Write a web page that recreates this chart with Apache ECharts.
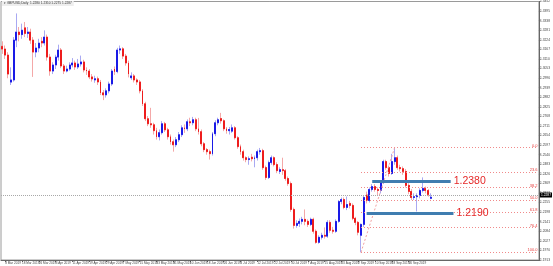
<!DOCTYPE html>
<html><head><meta charset="utf-8">
<script src="https://cdn.jsdelivr.net/npm/echarts@6/dist/echarts.min.js"></script>
<style>html,body{margin:0;padding:0;background:#fff}#c{width:553px;height:266px}</style>
</head><body><div id="c"></div>
<script>
const symbolName = 'GBPUSD,Daily';
const startDate = '2019-03-07';
const futureBars = 38;
const openP = [1.3185,1.3169,1.3133,1.2972,1.2985,1.3222,1.3270,1.3255,1.3295,1.3262,
1.3270,1.3222,1.3151,1.3175,1.3215,1.3205,1.3240,1.3121,1.3038,1.3074,
1.3121,1.3163,1.3068,1.3038,1.3050,1.3074,1.3086,1.3062,1.3080,1.3092,
1.3044,1.3038,1.3003,1.2985,1.2992,1.2973,1.2908,1.2896,1.2920,1.2961,
1.3050,1.3035,1.3163,1.3170,1.3127,1.3086,1.2998,1.3009,1.2985,1.2973,
1.2920,1.2843,1.2754,1.2724,1.2718,1.2683,1.2647,1.2671,1.2724,1.2688,
1.2647,1.2617,1.2599,1.2629,1.2659,1.2700,1.2694,1.2736,1.2730,1.2748,
1.2694,1.2677,1.2605,1.2570,1.2558,1.2546,1.2665,1.2730,1.2755,1.2742,
1.2694,1.2683,1.2680,1.2700,1.2641,1.2588,1.2558,1.2522,1.2511,1.2525,
1.2516,1.2522,1.2558,1.2564,1.2463,1.2404,1.2493,1.2522,1.2481,1.2440,
1.2451,1.2445,1.2398,1.2368,1.2214,1.2119,1.2131,1.2143,1.2155,1.2143,
1.2125,1.2155,1.2084,1.2018,1.2048,1.2060,1.2055,1.2137,1.2090,1.2084,
1.2143,1.2261,1.2273,1.2226,1.2250,1.2238,1.2161,1.2137,1.2060,1.2125,
1.2300,1.2267,1.2333,1.2350,1.2333,1.2327,1.2374,1.2499,1.2463,1.2428,
1.2499,1.2522,1.2463,1.2457,1.2440,1.2357,1.2321,1.2285,1.2290,1.2297,
1.2327,1.2339,1.2327,1.2280];
const closeP = [1.3169,1.3133,1.3020,1.2985,1.3222,1.3270,1.3255,1.3281,1.3262,1.3270,
1.3222,1.3151,1.3175,1.3204,1.3205,1.3240,1.3121,1.3038,1.3074,1.3121,
1.3163,1.3068,1.3038,1.3050,1.3074,1.3086,1.3062,1.3080,1.3092,1.3044,
1.3038,1.3003,1.2991,1.2992,1.2973,1.2908,1.2896,1.2920,1.2961,1.3038,
1.3035,1.3163,1.3170,1.3127,1.3086,1.3020,1.3009,1.2985,1.2973,1.2920,
1.2843,1.2754,1.2724,1.2718,1.2683,1.2647,1.2671,1.2724,1.2688,1.2647,
1.2617,1.2599,1.2629,1.2659,1.2700,1.2694,1.2736,1.2730,1.2748,1.2694,
1.2677,1.2605,1.2570,1.2558,1.2546,1.2665,1.2730,1.2748,1.2742,1.2694,
1.2683,1.2690,1.2700,1.2641,1.2588,1.2558,1.2522,1.2511,1.2516,1.2516,
1.2522,1.2558,1.2564,1.2463,1.2404,1.2493,1.2522,1.2481,1.2445,1.2451,
1.2445,1.2398,1.2368,1.2214,1.2119,1.2131,1.2143,1.2155,1.2143,1.2125,
1.2155,1.2084,1.2018,1.2048,1.2060,1.2055,1.2137,1.2090,1.2084,1.2143,
1.2261,1.2273,1.2226,1.2243,1.2238,1.2161,1.2137,1.2078,1.2125,1.2285,
1.2267,1.2333,1.2350,1.2333,1.2327,1.2374,1.2499,1.2463,1.2428,1.2499,
1.2522,1.2463,1.2457,1.2440,1.2357,1.2321,1.2285,1.2290,1.2297,1.2327,
1.2339,1.2327,1.2303,1.2287];
const lowP = [1.3140,1.3110,1.2995,1.2955,1.2975,1.3180,1.3215,1.3230,1.3240,1.3235,
1.3200,1.3003,1.3120,1.3150,1.3180,1.3190,1.3100,1.3010,1.3020,1.3050,
1.3100,1.3055,1.3020,1.3030,1.3040,1.3060,1.3045,1.3050,1.3065,1.3030,
1.3015,1.2990,1.2975,1.2968,1.2955,1.2895,1.2865,1.2880,1.2905,1.2950,
1.3015,1.3025,1.3140,1.3110,1.3070,1.3000,1.2985,1.2970,1.2955,1.2905,
1.2830,1.2740,1.2710,1.2700,1.2660,1.2630,1.2625,1.2660,1.2675,1.2630,
1.2600,1.2558,1.2585,1.2615,1.2645,1.2670,1.2680,1.2710,1.2715,1.2680,
1.2660,1.2590,1.2555,1.2540,1.2511,1.2535,1.2650,1.2715,1.2725,1.2680,
1.2665,1.2660,1.2670,1.2630,1.2575,1.2540,1.2505,1.2495,1.2480,1.2500,
1.2465,1.2505,1.2540,1.2450,1.2390,1.2395,1.2480,1.2470,1.2430,1.2425,
1.2420,1.2385,1.2355,1.2200,1.2100,1.2105,1.2110,1.2125,1.2120,1.2110,
1.2115,1.2070,1.2010,1.2010,1.2035,1.2040,1.2045,1.2075,1.2070,1.2075,
1.2135,1.2245,1.2215,1.2210,1.2220,1.2150,1.2120,1.2060,1.1959,1.2110,
1.2250,1.2255,1.2320,1.2320,1.2300,1.2310,1.2365,1.2450,1.2410,1.2420,
1.2480,1.2450,1.2440,1.2420,1.2345,1.2305,1.2270,1.2270,1.2202,1.2280,
1.2315,1.2310,1.2290,1.2275];
const highP = [1.3215,1.3190,1.3150,1.3060,1.3240,1.3381,1.3300,1.3320,1.3330,1.3300,
1.3290,1.3240,1.3205,1.3230,1.3240,1.3280,1.3255,1.3140,1.3090,1.3135,
1.3195,1.3175,1.3080,1.3070,1.3090,1.3115,1.3100,1.3110,1.3130,1.3105,
1.3060,1.3050,1.3020,1.3010,1.3005,1.2985,1.2925,1.2935,1.2975,1.3050,
1.3065,1.3176,1.3190,1.3180,1.3140,1.3100,1.3030,1.3020,1.2995,1.2985,
1.2930,1.2855,1.2770,1.2819,1.2730,1.2700,1.2690,1.2740,1.2735,1.2700,
1.2660,1.2630,1.2645,1.2675,1.2715,1.2720,1.2750,1.2760,1.2765,1.2760,
1.2759,1.2690,1.2615,1.2580,1.2570,1.2675,1.2745,1.2760,1.2789,1.2750,
1.2705,1.2705,1.2720,1.2710,1.2650,1.2600,1.2570,1.2530,1.2530,1.2545,
1.2535,1.2570,1.2580,1.2575,1.2475,1.2505,1.2535,1.2530,1.2495,1.2465,
1.2522,1.2455,1.2410,1.2380,1.2225,1.2150,1.2160,1.2170,1.2214,1.2155,
1.2165,1.2165,1.2095,1.2060,1.2075,1.2107,1.2150,1.2150,1.2110,1.2155,
1.2270,1.2285,1.2285,1.2291,1.2265,1.2250,1.2170,1.2145,1.2130,1.2295,
1.2320,1.2345,1.2365,1.2365,1.2345,1.2385,1.2510,1.2510,1.2475,1.2545,
1.2582,1.2535,1.2480,1.2470,1.2455,1.2370,1.2335,1.2310,1.2310,1.2340,
1.2405,1.2350,1.2335,1.2310];
const fibRatios = [0, 23.6, 38.2, 50.0, 61.8, 76.4, 100.0];
const fibHigh = 1.2582, fibHighBar = 140;
const fibLow = 1.1959, fibLowBar = 128;
const supportLevels = [1.2380, 1.2190];
const supportFromBar = [132, 130];
const supportToBar = [160, 161];
const yMin = 1.1913, yMax = 1.3452, yStep = 0.0057;

// categories: trading days (Mon-Fri) from start date
const months = ['Jan','Feb','Mar','Apr','May','Jun','Jul','Aug','Sep','Oct','Nov','Dec'];
const nData = closeP.length;
const categories = [];
{
  const d = new Date(startDate + 'T00:00:00Z');
  while (categories.length < nData + futureBars) {
    const wd = d.getUTCDay();
    if (wd !== 0 && wd !== 6) categories.push(d.getUTCDate() + ' ' + months[d.getUTCMonth()] + ' ' + d.getUTCFullYear());
    d.setUTCDate(d.getUTCDate() + 1);
  }
}
const lastIdx = categories.length - 1;
const last = nData - 1;
const full = openP.map((o, i) => [o, closeP[i], lowP[i], highP[i]]);
const bodies = openP.map((o, i) => [o, closeP[i], Math.min(o, closeP[i]), Math.max(o, closeP[i])]);

const RED = '#ee1d1d', BLUE = '#1a1ae6';
const FONT = 'Liberation Sans, Arial, sans-serif';
const labelIdx = (idx) => idx <= last && (idx - 1) % 6 === 0;

const fibLines = fibRatios.map(r => {
  const v = fibHigh - (fibHigh - fibLow) * r / 100;
  return [
    {coord: [fibLowBar, v], symbol: 'none'},
    {coord: [lastIdx, v], symbol: 'none',
     label: {show: true, position: 'insideEndTop', distance: 0, formatter: r.toFixed(1), color: '#e84040', fontSize: 4, fontFamily: FONT}}
  ];
});
const handLines = supportLevels.map((v, k) => [
  {coord: [supportFromBar[k], v], symbol: 'none',
   lineStyle: {color: '#3f7db0', width: 3, type: 'solid'}},
  {coord: [supportToBar[k], v], symbol: 'none',
   label: {show: true, position: 'end', distance: 3, formatter: v.toFixed(4), color: '#e52828', fontSize: 10.5, fontFamily: FONT}}
]);

const chart = echarts.init(document.getElementById('c'), null, {renderer: 'canvas'});
chart.setOption({
  animation: false,
  backgroundColor: '#ffffff',
  title: {
    text: '\u25BE ' + symbolName + '  ' + openP[last].toFixed(4) + ' ' + highP[last].toFixed(4) + ' ' + lowP[last].toFixed(4) + ' ' + closeP[last].toFixed(4),
    left: 2, top: 1, padding: [1, 2],
    backgroundColor: '#eeeeee',
    textStyle: {fontSize: 3.2, fontWeight: 'normal', color: '#333', fontFamily: FONT}
  },
  grid: {left: 1, right: 13, top: 1, bottom: 6, show: true, borderColor: '#9a9a9a', borderWidth: 1},
  xAxis: {
    type: 'category', data: categories, boundaryGap: true,
    axisLine: {lineStyle: {color: '#666', width: 1}},
    axisTick: {show: true, alignWithLabel: true, interval: labelIdx, length: 2, lineStyle: {color: '#666'}},
    axisLabel: {interval: labelIdx, fontSize: 3.1, color: '#444', align: 'left', margin: 1.5, fontFamily: FONT, hideOverlap: false},
    splitLine: {show: false}
  },
  yAxis: {
    type: 'value', position: 'right', scale: true,
    min: yMin, max: yMax, interval: yStep,
    axisLine: {show: true, lineStyle: {color: '#666', width: 1}},
    axisTick: {show: true, length: 1.5, lineStyle: {color: '#666'}},
    axisLabel: {fontSize: 3.3, color: '#444', margin: 1, fontFamily: FONT, formatter: v => v.toFixed(4)},
    splitLine: {show: false}
  },
  series: [
    {
      type: 'candlestick', name: 'wicks', data: full, barWidth: 1.4, silent: true,
      itemStyle: {color: '#a9a9f2', color0: '#f4a8a8', borderColor: '#a9a9f2', borderColor0: '#f4a8a8', borderWidth: 1}
    },
    {
      type: 'candlestick', name: 'bodies', data: bodies, barWidth: 1.4, silent: true,
      itemStyle: {color: BLUE, color0: RED, borderColor: BLUE, borderColor0: RED, borderWidth: 1},
      markLine: {
        silent: true, symbol: 'none', animation: false,
        lineStyle: {color: '#f08a8a', type: [1, 2], width: 1},
        label: {show: false},
        data: [
          ...fibLines,
          [{coord: [fibLowBar, fibLow], symbol: 'none', lineStyle: {color: '#f2a0a0', type: [2, 2], width: 1}},
           {coord: [fibHighBar, fibHigh], symbol: 'none'}],
          {yAxis: closeP[last], symbol: 'none',
           lineStyle: {color: '#a8a8a8', type: [1, 1], width: 1},
           label: {show: true, position: 'end', distance: 1, formatter: closeP[last].toFixed(4),
                   backgroundColor: '#000', color: '#fff', fontSize: 3.3, padding: [1, 1], fontFamily: FONT}},
          ...handLines
        ]
      }
    }
  ]
});
</script>
</body></html>
